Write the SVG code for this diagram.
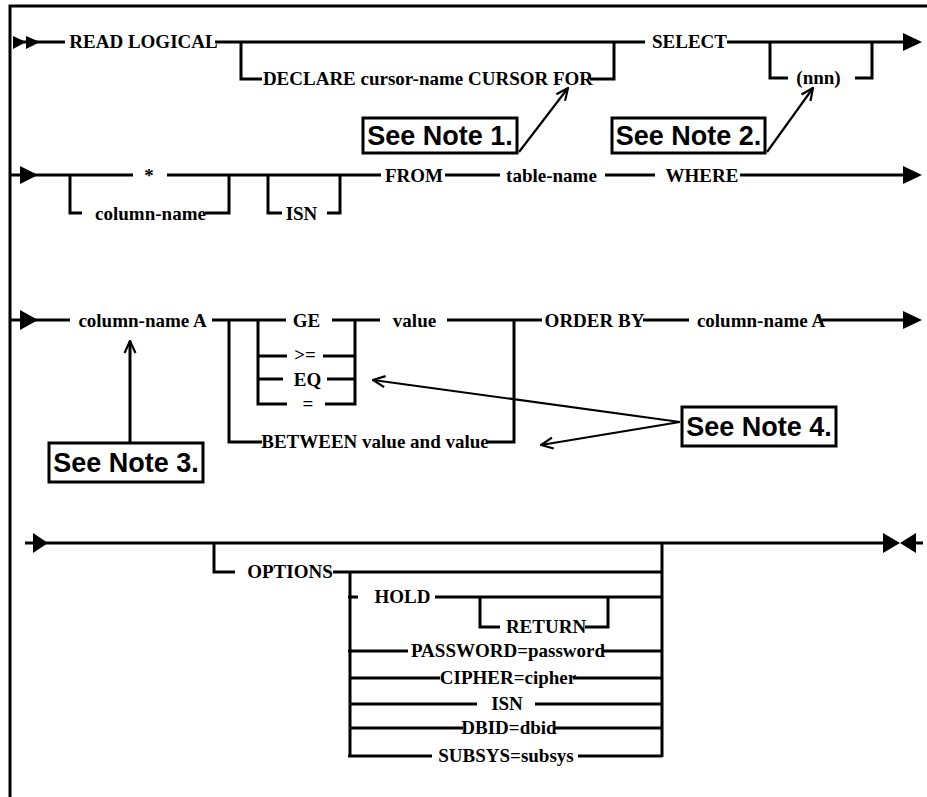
<svg xmlns="http://www.w3.org/2000/svg" width="927" height="797" viewBox="0 0 927 797">
<style>
.ln{fill:none;stroke:#000;stroke-width:3}
.tri{fill:#000;stroke:none}
.na{fill:none;stroke:#000;stroke-width:2.2}
.t{font-family:"Liberation Serif","Times New Roman",serif;font-weight:bold;font-size:19px;fill:#000;text-anchor:middle}
.nb{fill:#fff;stroke:#000;stroke-width:3}
.nt{font-family:"Liberation Sans",Arial,sans-serif;font-weight:bold;font-size:27px;fill:#000;text-anchor:middle}
</style>
<defs>
<marker id="open" viewBox="0 0 14 14" refX="13" refY="7" markerWidth="14" markerHeight="14" markerUnits="userSpaceOnUse" orient="auto">
<path d="M1,1.5 L13,7 L1,12.5" fill="none" stroke="#000" stroke-width="2.2"/>
</marker>
</defs>
<rect width="927" height="797" fill="#fff"/>
<path class="ln" d="M10,797 V6 H927"/>
<g id="connectors">
<!-- row 1 -->
<path class="ln" d="M13,42 H65"/>
<polygon class="tri" points="13,36 26,42 13,49"/>
<polygon class="tri" points="26,36 40,42 26,49"/>
<path class="ln" d="M215,42 H645"/>
<path class="ln" d="M727,42 H904"/>
<polygon class="tri" points="903,33 922,42 903,51"/>
<path class="ln" d="M241,42 V79 H262"/>
<path class="ln" d="M590,79 H614 V42"/>
<path class="ln" d="M770,42 V78 H788"/>
<path class="ln" d="M855,78 H872 V42"/>
<!-- row 2 -->
<path class="ln" d="M10,175 H133"/>
<polygon class="tri" points="20,166 38,175 20,184"/>
<path class="ln" d="M167,175 H381"/>
<path class="ln" d="M445,175 H500"/>
<path class="ln" d="M605,175 H655"/>
<path class="ln" d="M740,175 H904"/>
<polygon class="tri" points="903,166 922,175 903,184"/>
<path class="ln" d="M70,175 V213 H82"/>
<path class="ln" d="M205,213 H229 V175"/>
<path class="ln" d="M268,175 V213 H282"/>
<path class="ln" d="M327,213 H340 V175"/>
<!-- row 3 -->
<path class="ln" d="M10,320 H70"/>
<polygon class="tri" points="20,310 38,320 20,330"/>
<path class="ln" d="M212,320 H286"/>
<path class="ln" d="M332,320 H380"/>
<path class="ln" d="M447,320 H542"/>
<path class="ln" d="M643,320 H689"/>
<path class="ln" d="M822,320 H904"/>
<polygon class="tri" points="903,311 922,320 903,329"/>
<path class="ln" d="M229,320 V442 H262"/>
<path class="ln" d="M488,442 H514 V320"/>
<path class="ln" d="M258,320 V404 H287"/>
<path class="ln" d="M325,404 H355 V320"/>
<path class="ln" d="M258,356 H287"/>
<path class="ln" d="M323,356 H355"/>
<path class="ln" d="M258,379 H283"/>
<path class="ln" d="M327,379 H355"/>
<!-- row 4 -->
<path class="ln" d="M25,543 H884"/>
<polygon class="tri" points="33,533 48,543 33,553"/>
<polygon class="tri" points="883,533 900,543 883,553"/>
<polygon class="tri" points="916,533 900,543 916,553"/>
<path class="ln" d="M915,543 H923"/>
<path class="ln" d="M214,543 V572 H235"/>
<path class="ln" d="M333,572 H662"/>
<path class="ln" d="M662,543 V757"/>
<path class="ln" d="M350,572 V757"/>
<path class="ln" d="M348,597 H358"/>
<path class="ln" d="M435,597 H662"/>
<path class="ln" d="M480,597 V627 H500"/>
<path class="ln" d="M585,627 H608 V597"/>
<path class="ln" d="M348,651 H408"/>
<path class="ln" d="M603,651 H662"/>
<path class="ln" d="M350,678 H440"/>
<path class="ln" d="M573,678 H662"/>
<path class="ln" d="M350,704 H477"/>
<path class="ln" d="M535,704 H662"/>
<path class="ln" d="M350,728 H463"/>
<path class="ln" d="M555,728 H662"/>
<path class="ln" d="M348,756 H432"/>
<path class="ln" d="M578,756 H662"/>
<!-- note arrows -->
<path class="na" d="M519,152 L568,88" marker-end="url(#open)"/>
<path class="na" d="M767,152 L813,88" marker-end="url(#open)"/>
<path class="na" style="stroke-width:3" d="M130,443 L130,341" marker-end="url(#open)"/>
<path class="na" d="M680,422 L373,380" marker-end="url(#open)"/>
<path class="na" d="M680,422 L541,445" marker-end="url(#open)"/>
</g>
<g id="read-logical"><text class="t" x="143.5" y="48">READ LOGICAL</text></g>
<g id="declare"><text class="t" x="428" y="84.5">DECLARE cursor-name CURSOR FOR</text></g>
<g id="select"><text class="t" x="689.5" y="48">SELECT</text></g>
<g id="nnn"><text class="t" x="818.5" y="84">(nnn)</text></g>
<g id="star"><text class="t" x="149" y="182">*</text></g>
<g id="column-name"><text class="t" x="150.5" y="219.5">column-name</text></g>
<g id="isn1"><text class="t" x="301.5" y="219.5">ISN</text></g>
<g id="from"><text class="t" x="414" y="181.5">FROM</text></g>
<g id="table-name"><text class="t" x="551.5" y="181.5">table-name</text></g>
<g id="where"><text class="t" x="702" y="181.5">WHERE</text></g>
<g id="colA1"><text class="t" x="142.5" y="326.5">column-name A</text></g>
<g id="ge"><text class="t" x="306.5" y="326.5">GE</text></g>
<g id="ge2"><text class="t" x="305" y="361">&gt;=</text></g>
<g id="eq"><text class="t" x="307.5" y="386">EQ</text></g>
<g id="eq2"><text class="t" x="308" y="410">=</text></g>
<g id="between"><text class="t" x="375" y="448">BETWEEN value and value</text></g>
<g id="value"><text class="t" x="414.5" y="326.5">value</text></g>
<g id="order-by"><text class="t" x="594.5" y="326.5">ORDER BY</text></g>
<g id="colA2"><text class="t" x="761" y="326.5">column-name A</text></g>
<g id="options"><text class="t" x="290" y="578">OPTIONS</text></g>
<g id="hold"><text class="t" x="402.5" y="603">HOLD</text></g>
<g id="return"><text class="t" x="546" y="633">RETURN</text></g>
<g id="password"><text class="t" x="508" y="657">PASSWORD=password</text></g>
<g id="cipher"><text class="t" x="508" y="684">CIPHER=cipher</text></g>
<g id="isn2"><text class="t" x="507" y="710">ISN</text></g>
<g id="dbid"><text class="t" x="509" y="734">DBID=dbid</text></g>
<g id="subsys"><text class="t" x="506" y="762">SUBSYS=subsys</text></g>
<g id="note1"><rect class="nb" x="363" y="118" width="154" height="35"/><text class="nt" x="440" y="145">See Note 1.</text></g>
<g id="note2"><rect class="nb" x="612" y="118" width="153" height="35"/><text class="nt" x="688.5" y="145">See Note 2.</text></g>
<g id="note3"><rect class="nb" x="49" y="443" width="154" height="39"/><text class="nt" x="126" y="472">See Note 3.</text></g>
<g id="note4"><rect class="nb" x="682" y="407" width="154" height="39"/><text class="nt" x="759" y="436">See Note 4.</text></g>
</svg>
